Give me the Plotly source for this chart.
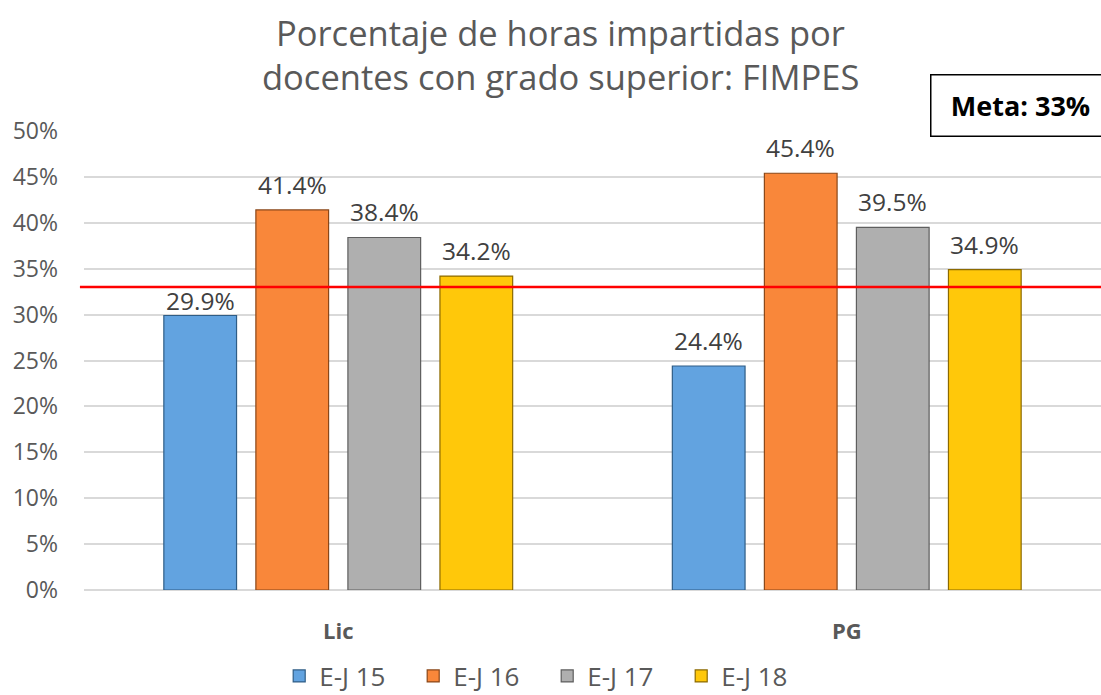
import plotly.graph_objects as go

categories = ["Lic", "PG"]
series_names = ["E-J 15", "E-J 16", "E-J 17", "E-J 18"]
values = {
    "E-J 15": [0.299, 0.244],
    "E-J 16": [0.414, 0.454],
    "E-J 17": [0.384, 0.395],
    "E-J 18": [0.342, 0.349],
}
meta = 0.33
y_ticks = [0, 0.05, 0.10, 0.15, 0.20, 0.25, 0.30, 0.35, 0.40, 0.45, 0.50]

colors = ["#62A3E0", "#F9873A", "#AFAFAF", "#FFC80A"]
edge_colors = ["#2F5D86", "#8A4718", "#5E5E5E", "#8C6A00"]

FONT = "Open Sans, Noto Sans, DejaVu Sans, sans-serif"
GRAY = "#595959"

BARGAP = 0.276
BARGROUPGAP = 0.21
LABEL_SHIFT = 7
# label nudged down in the original so it sits just under the goal line
LABEL_SHIFT_OVERRIDE = {("E-J 15", "Lic"): -3}

fig = go.Figure()
for i, name in enumerate(series_names):
    fig.add_trace(go.Bar(
        name=name, x=categories, y=values[name],
        marker=dict(color=colors[i], line=dict(color=edge_colors[i], width=1.2)),
    ))

# data labels as annotations placed above each bar
slot = (1 - BARGAP) / len(series_names)
for i, name in enumerate(series_names):
    for c, v in enumerate(values[name]):
        fig.add_annotation(
            x=c + (i - (len(series_names) - 1) / 2) * slot, y=v, xref="x", yref="y",
            text=f"{v*100:.1f}%", showarrow=False, yanchor="bottom",
            yshift=LABEL_SHIFT_OVERRIDE.get((name, categories[c]), LABEL_SHIFT),
            font=dict(family=FONT, size=24.5, color="#404040"),
        )

# meta line
fig.add_shape(type="line", xref="paper", yref="y", x0=-0.004, x1=1.0, y0=meta, y1=meta,
              line=dict(color="#FF0000", width=2.5))

# title lines
fig.add_annotation(text="Porcentaje de horas impartidas por", xref="paper", yref="paper",
                   x=(560 - 84) / 1017, y=(590 - 32) / 459, showarrow=False,
                   xanchor="center", yanchor="middle",
                   font=dict(family=FONT, size=34.5, color=GRAY))
fig.add_annotation(text="docentes con grado superior: FIMPES", xref="paper", yref="paper",
                   x=(560 - 84) / 1017, y=(590 - 77) / 459, showarrow=False,
                   xanchor="center", yanchor="middle",
                   font=dict(family=FONT, size=34.5, color=GRAY))

# meta box
fig.add_annotation(text="<b>Meta: 33%</b>", xref="paper", yref="paper",
                   x=(1020 - 84) / 1017, y=(590 - 105.5) / 459, showarrow=False,
                   xanchor="center", yanchor="middle", width=176, height=58,
                   bordercolor="#000000", borderwidth=1.5, bgcolor="white",
                   font=dict(family=FONT, size=27, color="#000000"))

fig.update_layout(
    width=1101, height=695,
    margin=dict(l=84, r=0, t=131, b=105, autoexpand=False),
    paper_bgcolor="white", plot_bgcolor="white",
    barmode="group", bargap=BARGAP, bargroupgap=BARGROUPGAP,
    showlegend=True,
    legend=dict(orientation="h", xref="container", yref="paper",
                x=0.497, y=(590 - 676) / 459, xanchor="center", yanchor="middle",
                font=dict(family=FONT, size=26, color=GRAY),
                itemwidth=30, entrywidth=89, traceorder="normal"),
    font=dict(family=FONT, color=GRAY),
)
fig.update_xaxes(range=[-0.5, 1.5], showgrid=False, showline=False, zeroline=False,
                 tickfont=dict(family=FONT, size=22, color=GRAY),
                 tickprefix="<b>", ticksuffix="</b>", ticks="", ticklabelstandoff=26)
fig.update_yaxes(range=[0, 0.5], tickvals=y_ticks, tickformat=".0%",
                 showgrid=True, gridcolor="#D9D9D9", gridwidth=1.5,
                 zeroline=True, zerolinecolor="#D9D9D9", zerolinewidth=1.5,
                 showline=False, ticks="", ticklabelstandoff=25,
                 tickfont=dict(family=FONT, size=23, color=GRAY))

fig.write_html("out.html", config={"displayModeBar": False},
               post_script="document.body.style.margin='0';document.body.style.overflow='hidden';")
